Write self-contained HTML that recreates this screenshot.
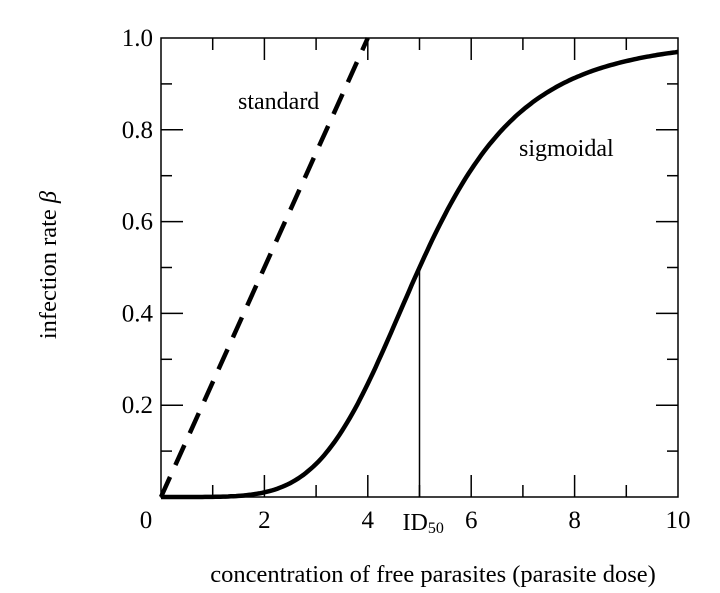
<!DOCTYPE html>
<html><head><meta charset="utf-8"><style>
body{margin:0;background:#fff}
text{font-family:"Liberation Serif",serif;fill:#000}
</style></head><body>
<svg id="chart" width="720" height="588" xmlns="http://www.w3.org/2000/svg"></svg>
<script>
const xTicks=[0,2,4,6,8,10];
const yTicks=[0.2,0.4,0.6,0.8,1.0];
const yTickLabels=["0.2","0.4","0.6","0.8","1.0"];
const standardSlope=[0.25];
const sigmoidHalf=[5];
const sigmoidHill=[5];
const L=161,R=678,T=38,B=497;
const sx=v=>L+(R-L)*v/10, sy=v=>B-(B-T)*v;
const svg=document.getElementById('chart');
const NS="http://www.w3.org/2000/svg";
function mk(tag,attrs,parent){const e=document.createElementNS(NS,tag);for(const k in attrs)e.setAttribute(k,attrs[k]);(parent||svg).appendChild(e);return e;}
let frame=mk('rect',{x:L,y:T,width:R-L,height:B-T,fill:'none',stroke:'#000','stroke-width':1.5});


for(let v=1;v<10;v++){const major=v%2===0;const len=major?22:12;
 const t1=mk('line',{x1:sx(v),x2:sx(v),y1:B,y2:B-len,stroke:'#000','stroke-width':1.5});
 
 
 const t2=mk('line',{x1:sx(v),x2:sx(v),y1:T,y2:T+len,stroke:'#000','stroke-width':1.5});
 
 }
for(let i=1;i<10;i++){const v=i/10;const major=i%2===0;const len=major?22:11;
 const t1=mk('line',{x1:L,x2:L+len,y1:sy(v),y2:sy(v),stroke:'#000','stroke-width':1.5});
 
 
 const t2=mk('line',{x1:R,x2:R-len,y1:sy(v),y2:sy(v),stroke:'#000','stroke-width':1.5});
 
 }
xTicks.forEach(v=>{const t=mk('text',{x:v===0?146:sx(v),y:528,'font-size':25,'text-anchor':'middle'});t.textContent=v;
 
 });
yTicks.forEach((v,i)=>{const t=mk('text',{x:153,y:sy(v)+8,'font-size':25,'text-anchor':'end'});t.textContent=yTickLabels[i];
 
 });
const h=sigmoidHalf[0],n=sigmoidHill[0];
const f=x=>Math.pow(x,n)/(Math.pow(x,n)+Math.pow(h,n));
const id=mk('line',{x1:sx(h),x2:sx(h),y1:B,y2:sy(f(h)),stroke:'#000','stroke-width':1.5});


const idt=mk('text',{x:sx(h)-17,y:530,'font-size':24});idt.innerHTML='ID<tspan font-size="16" dy="3">50</tspan>';


const xe=Math.min(10,1/standardSlope[0]);
const st=mk('line',{x1:sx(0),y1:sy(0),x2:sx(xe),y2:sy(standardSlope[0]*xe),stroke:'#000','stroke-width':4.5,'stroke-dasharray':'22 13'});


let d='';for(let i=0;i<=200;i++){const x=i/20;d+=(i?'L':'M')+sx(x).toFixed(1)+','+sy(f(x)).toFixed(1);}
const sg=mk('path',{d:d,fill:'none',stroke:'#000','stroke-width':4.5});


const l1=mk('text',{x:238,y:109,'font-size':24});l1.textContent='standard';


const l2=mk('text',{x:519,y:156,'font-size':24});l2.textContent='sigmoidal';


const xt=mk('text',{x:433,y:582,'font-size':24.5,'text-anchor':'middle'});xt.textContent='concentration of free parasites (parasite dose)';


const yt=mk('text',{x:0,y:0,'font-size':24.5,'text-anchor':'middle',transform:'translate(56,265) rotate(-90)'});yt.innerHTML='infection rate <tspan font-style="italic">β</tspan>';


</script>
</body></html>
